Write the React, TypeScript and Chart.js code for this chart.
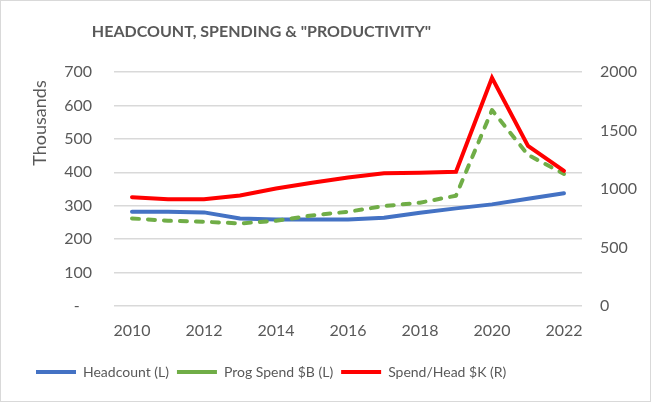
import { useEffect, useRef } from 'react';
import { Chart, registerables } from 'chart.js';

Chart.register(...registerables);

const years = ['2010', '2011', '2012', '2013', '2014', '2015', '2016', '2017', '2018', '2019', '2020', '2021', '2022'];
const headcount = [282, 282, 280, 262, 259, 259, 259, 264, 279, 292, 304, 321, 337];
const progSpend = [262, 255, 252, 247, 255, 271, 282, 299, 309, 330, 586, 452, 395];
const spendPerHead = [930, 913, 913, 945, 1005, 1053, 1099, 1135, 1138, 1147, 1950, 1368, 1155];

const titleText = 'HEADCOUNT, SPENDING & "PRODUCTIVITY"';
const leftAxisTitle = 'Thousands';
const seriesNames = ['Headcount (L)', 'Prog Spend $B (L)', 'Spend/Head $K (R)'];

const FONT = 'Lato, "Open Sans", sans-serif';
const TEXT = '#595959';

export default function App() {
  const ref = useRef<HTMLCanvasElement | null>(null);

  useEffect(() => {
    if (!ref.current) return;
    const sidePlugin = {
      id: 'sideStuff',
      afterLayout(chart: any) {
        if (chart.titleBlock) {
          chart.titleBlock.left = 0;
          chart.titleBlock.right = 521;
        }
      },
      afterDraw(chart: any) {
        const ctx = chart.ctx;
        ctx.save();
        ctx.translate(39.5, 122);
        ctx.rotate(-Math.PI / 2);
        ctx.font = `18px ${FONT}`;
        ctx.fillStyle = TEXT;
        ctx.textAlign = 'center';
        ctx.textBaseline = 'middle';
        ctx.fillText(leftAxisTitle, 0, 0);
        ctx.restore();
      },
    };

    const chart = new Chart(ref.current, {
      type: 'line',
      data: {
        labels: years,
        datasets: [
          {
            label: seriesNames[0],
            data: headcount,
            borderColor: '#4472C4',
            backgroundColor: '#4472C4',
            borderWidth: 4,
            pointRadius: 0,
            tension: 0,
            yAxisID: 'y',
            order: 3,
            borderCapStyle: 'round',
            borderJoinStyle: 'round',
          },
          {
            label: seriesNames[1],
            data: progSpend,
            borderColor: '#70AD47',
            backgroundColor: '#70AD47',
            borderWidth: 4,
            borderDash: [7, 9],
            borderCapStyle: 'round',
            borderJoinStyle: 'round',
            pointRadius: 0,
            tension: 0,
            yAxisID: 'y',
            order: 2,
          },
          {
            label: seriesNames[2],
            data: spendPerHead,
            borderColor: '#FF0000',
            backgroundColor: '#FF0000',
            borderWidth: 4,
            pointRadius: 0,
            tension: 0,
            yAxisID: 'y1',
            order: 1,
            borderCapStyle: 'round',
            borderJoinStyle: 'miter',
          },
        ],
      },
      options: {
        responsive: false,
        animation: false,
        layout: { padding: { left: 27, right: 0, top: 0, bottom: 12 } },
        font: { family: FONT },
        plugins: {
          title: {
            display: true,
            text: titleText,
            color: TEXT,
            font: { family: FONT, size: 16, weight: 'bold' },
            padding: { top: 21.4, bottom: 30.4 },
          },
          legend: {
            position: 'bottom',
            align: 'start',
            labels: {
              sort: (a: any, b: any) => a.datasetIndex - b.datasetIndex,
              usePointStyle: true,
              pointStyle: 'line',
              pointStyleWidth: 40,
              padding: 8,
              color: TEXT,
              font: { family: FONT, size: 14 },
            },
          },
          tooltip: { enabled: false },
        },
        scales: {
          x: {
            type: 'category',
            offset: true,
            grid: { display: false, drawTicks: false },
            border: { display: false },
            ticks: {
              autoSkip: false,
              maxRotation: 0,
              padding: 15,
              color: TEXT,
              font: { family: FONT, size: 16 },
              callback: (_v: any, i: number) => (i % 2 === 0 ? years[i] : ''),
            },
            afterFit: (s: any) => {
              s.height = 51;
            },
          },
          y: {
            position: 'left',
            min: 0,
            max: 700,
            grid: { color: '#D9D9D9', lineWidth: 1.5, drawTicks: false },
            border: { display: false },
            ticks: {
              stepSize: 100,
              padding: 22,
              color: TEXT,
              font: { family: FONT, size: 16 },
              callback: (v: any) => (v === 0 ? '-   ' : String(v)),
            },
            afterFit: (s: any) => {
              s.width = 86;
            },
          },
          y1: {
            position: 'right',
            min: 0,
            max: 2000,
            grid: { display: false, drawTicks: false },
            border: { display: false },
            ticks: {
              stepSize: 500,
              padding: 18,
              color: TEXT,
              font: { family: FONT, size: 16 },
              callback: (v: any) => String(v),
            },
            afterFit: (s: any) => {
              s.width = 68;
            },
          },
        },
      },
      plugins: [sidePlugin],
    } as any);
    return () => chart.destroy();
  }, []);

  return (
    <div
      style={{
        position: 'absolute',
        left: 0,
        top: 0,
        width: 651,
        height: 402,
        boxSizing: 'border-box',
        border: '1px solid #D9D9D9',
        background: '#fff',
      }}
    >
      <canvas ref={ref} width={649} height={400} style={{ display: 'block', width: 649, height: 400 }} />
    </div>
  );
}
